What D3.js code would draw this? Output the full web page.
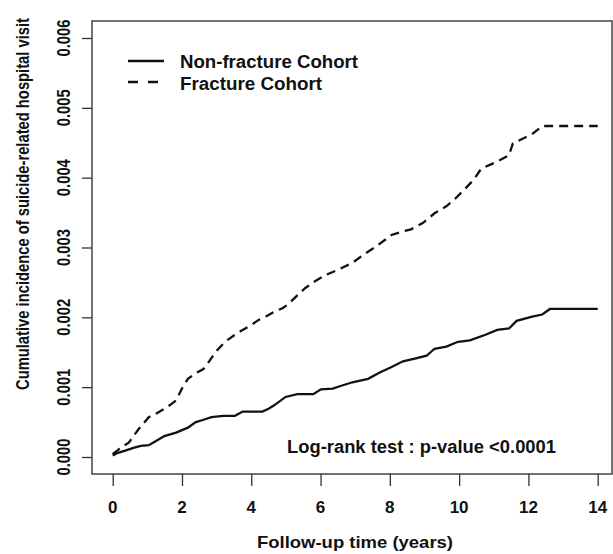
<!DOCTYPE html>
<html>
<head>
<meta charset="utf-8">
<script src="https://cdn.jsdelivr.net/npm/d3@7"></script>
<style>
  body { margin: 0; background: #fff; }
  svg text { font-family: "Liberation Sans", Arial, sans-serif; font-weight: bold; fill: #111; }
</style>
</head>
<body>
<svg id="chart"></svg>
<script>
// follow-up time (years) and cumulative incidence
var fractureTime = [0, 0.2, 0.47, 0.75, 1.04, 1.25, 1.49, 1.7, 1.83, 2.0, 2.17, 2.4, 2.62, 2.8, 2.96, 3.15, 3.3, 3.5, 3.75, 4.0, 4.2, 4.45, 4.66, 4.9, 5.05, 5.3, 5.56, 5.85, 6.12, 6.5, 6.92, 7.25, 7.59, 8.05, 8.3, 8.61, 8.95, 9.29, 9.63, 9.85, 10.19, 10.42, 10.64, 11.1, 11.44, 11.55, 11.8, 12.1, 12.4, 14.0];
var fractureInc = [0.00004, 0.00012, 0.00021, 0.0004, 0.00057, 0.00062, 0.00069, 0.00076, 0.00081, 0.00098, 0.00112, 0.0012, 0.00126, 0.00138, 0.0015, 0.0016, 0.00167, 0.00174, 0.00182, 0.00189, 0.00196, 0.00202, 0.00208, 0.00213, 0.00218, 0.0023, 0.00242, 0.00252, 0.0026, 0.00268, 0.00278, 0.0029, 0.00301, 0.00318, 0.00322, 0.00326, 0.00335, 0.00349, 0.00359, 0.00368, 0.00385, 0.00397, 0.00413, 0.00423, 0.00432, 0.00449, 0.00455, 0.00462, 0.00474, 0.00474];
var nonFractureTime = [0, 0.15, 0.36, 0.6, 0.81, 1.04, 1.25, 1.49, 1.83, 2.17, 2.4, 2.6, 2.85, 3.19, 3.53, 3.75, 4.32, 4.5, 4.66, 4.99, 5.33, 5.79, 6.01, 6.35, 6.6, 6.92, 7.37, 7.71, 8.05, 8.38, 8.72, 9.06, 9.29, 9.63, 9.97, 10.31, 10.76, 11.1, 11.44, 11.66, 12.11, 12.4, 12.62, 14.0];
var nonFractureInc = [0.00002, 0.00006, 0.00009, 0.00013, 0.00016, 0.00017, 0.00023, 0.0003, 0.00035, 0.00042, 0.0005, 0.00053, 0.00057, 0.00059, 0.00059, 0.00065, 0.00065, 0.00069, 0.00074, 0.00086, 0.0009, 0.0009, 0.00097, 0.00098, 0.00102, 0.00107, 0.00112, 0.00121, 0.00129, 0.00137, 0.00141, 0.00145, 0.00155, 0.00158, 0.00165, 0.00167, 0.00175, 0.00182, 0.00184, 0.00195, 0.00201, 0.00204, 0.00212, 0.00212];
var xTicks = [0, 2, 4, 6, 8, 10, 12, 14];
var yTicks = [0, 0.001, 0.002, 0.003, 0.004, 0.005, 0.006];
var legendLabels = ["Non-fracture Cohort", "Fracture Cohort"];

var width = 613, height = 554;
var svg = d3.select("#chart").attr("width", width).attr("height", height);

var x = d3.scaleLinear().domain([0, 14]).range([112.7, 597.7]);
var y = d3.scaleLinear().domain([0, 0.006]).range([457, 38]);

// plot box
svg.append("rect").attr("x", 92).attr("y", 21).attr("width", 520).attr("height", 453)
  .attr("fill", "none").attr("stroke", "#444").attr("stroke-width", 1.5);

// axes (tick marks only, labels drawn separately)
var xAxis = svg.append("g").attr("transform", "translate(0,474)")
  .call(d3.axisBottom(x).tickValues(xTicks).tickSize(12).tickFormat(""));
xAxis.select(".domain").remove();
xAxis.selectAll("line").attr("stroke", "#333").attr("stroke-width", 1.3);

var yAxis = svg.append("g").attr("transform", "translate(92,0)")
  .call(d3.axisLeft(y).tickValues(yTicks).tickSize(10).tickFormat(""));
yAxis.select(".domain").remove();
yAxis.selectAll("line").attr("stroke", "#333").attr("stroke-width", 1.3);

xTicks.forEach(function(t) {
  svg.append("text").attr("x", x(t)).attr("y", 513).attr("text-anchor", "middle")
    .style("font-size", "17px").text(t);
});
yTicks.forEach(function(t) {
  svg.append("text").attr("transform", "translate(70," + y(t) + ") rotate(-90)")
    .attr("text-anchor", "middle").style("font-size", "18px")
    .attr("textLength", 37).attr("lengthAdjust", "spacingAndGlyphs")
    .text(d3.format(".3f")(t));
});

svg.append("text").attr("x", 355).attr("y", 548).attr("text-anchor", "middle")
  .style("font-size", "16.5px").attr("textLength", 196).attr("lengthAdjust", "spacingAndGlyphs")
  .text("Follow-up time (years)");
svg.append("text").attr("transform", "translate(29,204) rotate(-90)")
  .attr("text-anchor", "middle").style("font-size", "18px")
  .attr("textLength", 372).attr("lengthAdjust", "spacingAndGlyphs")
  .text("Cumulative incidence of suicide-related hospital visit");

// curves
var line = d3.line().x(function(d) { return x(d[0]); }).y(function(d) { return y(d[1]); });
svg.append("path").datum(d3.zip(nonFractureTime, nonFractureInc)).attr("d", line)
  .attr("fill", "none").attr("stroke", "#111").attr("stroke-width", 2.3);
svg.append("path").datum(d3.zip(fractureTime, fractureInc)).attr("d", line)
  .attr("fill", "none").attr("stroke", "#111").attr("stroke-width", 2.3)
  .attr("stroke-dasharray", "9,6");

// legend
svg.append("line").attr("x1", 128).attr("x2", 164).attr("y1", 61).attr("y2", 61)
  .attr("stroke", "#111").attr("stroke-width", 2.3);
svg.append("line").attr("x1", 128).attr("x2", 164).attr("y1", 82).attr("y2", 82)
  .attr("stroke", "#111").attr("stroke-width", 2.3).attr("stroke-dasharray", "10,10");
svg.append("text").attr("x", 180).attr("y", 68).style("font-size", "17.5px")
  .attr("textLength", 178).attr("lengthAdjust", "spacingAndGlyphs").text(legendLabels[0]);
svg.append("text").attr("x", 180).attr("y", 90).style("font-size", "17.5px")
  .attr("textLength", 142).attr("lengthAdjust", "spacingAndGlyphs").text(legendLabels[1]);

svg.append("text").attr("x", 287).attr("y", 453).style("font-size", "17.5px")
  .attr("textLength", 269).attr("lengthAdjust", "spacingAndGlyphs")
  .text("Log-rank test : p-value <0.0001");
</script>
</body>
</html>
